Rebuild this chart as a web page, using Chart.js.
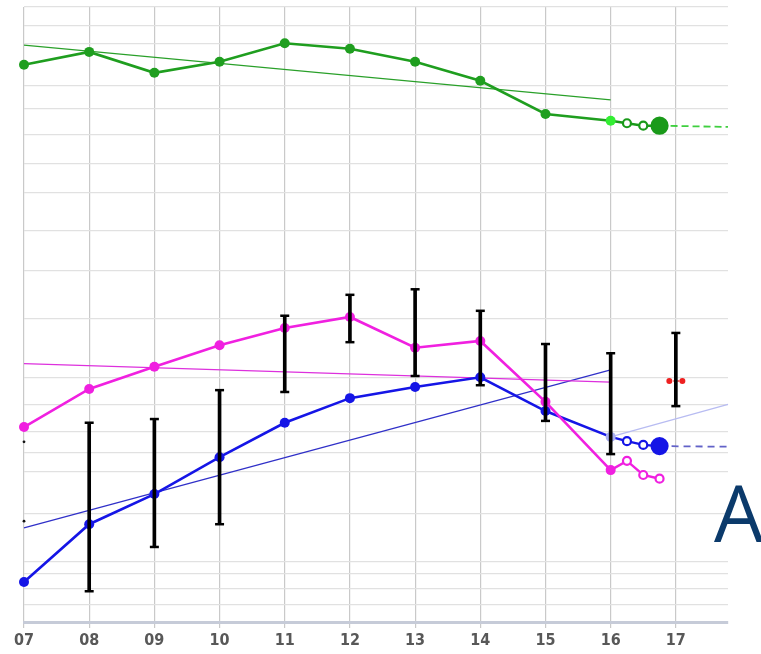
<!DOCTYPE html>
<html>
<head>
<meta charset="utf-8">
<script src="https://cdn.jsdelivr.net/npm/chart.js@4.4.1/dist/chart.umd.min.js"></script>
<style>
  html, body { margin: 0; padding: 0; background: #ffffff; }
  #wrap { position: relative; width: 761px; height: 654px; overflow: hidden; }
  #c { position: absolute; left: 0; top: 0; }
  #mark { position: absolute; left: 714px; top: 462px; font-family: "Open Sans", sans-serif; font-size: 78px; line-height: 100px; color: #0b3a6b; }
</style>
</head>
<body>
<div id="wrap">
  <canvas id="c" width="761" height="654"></canvas>
  <div id="mark">A</div>
</div>
<script>
// ---- data ----
const years = [7, 8, 9, 10, 11, 12, 13, 14, 15, 16];
const xTickValues = [7, 8, 9, 10, 11, 12, 13, 14, 15, 16, 17];
const xTickLabels = ['07', '08', '09', '10', '11', '12', '13', '14', '15', '16', '17'];
const yGridValues = [0, 2.9, 5.5, 7.8, 9.8, 17.7, 24.4, 27.5, 30.9, 35.3, 39.7, 49.4, 57.2, 63.7, 69.8, 74.6, 79.3, 83.4, 87.2, 94.0, 96.9, 100];

const greenValues = [90.6, 92.7, 89.3, 91.1, 94.1, 93.2, 91.1, 88.0, 82.6, 81.5];
const pinkValues  = [31.7, 37.9, 41.5, 45.0, 47.8, 49.6, 44.6, 45.7, 35.8, 24.7];
const blueValues  = [6.5, 15.9, 20.8, 26.8, 32.4, 36.4, 38.2, 39.8, 34.3, 30.1];

const forecastX    = [16, 16.25, 16.5, 16.75];
const greenFcst    = [81.5, 81.1, 80.7, 80.7];
const pinkFcst     = [24.7, 26.2, 23.9, 23.3];
const blueFcst     = [30.1, 29.4, 28.8, 28.6];

const dashX        = [16.75, 17.8];
const greenDash    = [80.7, 80.5];
const blueDash     = [28.6, 28.5];

const trendX       = [7, 16];
const greenTrend   = [93.8, 84.9];
const pinkTrend    = [42.0, 39.0];
const blueTrend    = [15.3, 41.0];

const lavenderX    = [16, 17.8];
const lavenderY    = [30.1, 35.4];

const errX    = [8, 9, 10, 11, 12, 13, 14, 15, 16, 17];
const errLow  = [5.0, 12.2, 15.9, 37.4, 45.5, 40.0, 38.5, 32.7, 27.3, 35.1];
const errHigh = [32.4, 33.0, 37.7, 49.8, 53.2, 54.1, 50.6, 45.2, 43.7, 47.0];

const redX = [16.9, 17.1];
const redY = [39.2, 39.2];

const dotX = [7, 7];
const dotY = [29.3, 16.4];

// ---- helpers ----
const pts = (xs, ys) => xs.map((x, i) => ({ x: x, y: ys[i] }));

const GREEN = '#1f9e1f', PINK = '#f020e0', BLUE = '#1515e6';

function mainSeries(vals, color, lastColor, order) {
  return {
    type: 'line', data: pts(years, vals), order: order,
    borderColor: color, borderWidth: 2.6,
    pointRadius: 5, pointHoverRadius: 5,
    pointBackgroundColor: vals.map((v, i) => i === vals.length - 1 ? lastColor : color),
    pointBorderColor: vals.map((v, i) => i === vals.length - 1 ? lastColor : color),
    pointBorderWidth: 0, clip: false, tension: 0
  };
}
function fcSeries(vals, color, bigLast, order) {
  return {
    type: 'line', data: pts(forecastX, vals), order: order,
    borderColor: color, borderWidth: 2.4,
    pointRadius: [0, 4, 4, bigLast ? 8 : 4],
    pointBackgroundColor: ['#fff', '#fff', '#fff', bigLast ? color : '#fff'],
    pointBorderColor: color, pointBorderWidth: 2.2, clip: false
  };
}
function thinLine(xs, ys, color, width, dash, order) {
  return {
    type: 'line', data: pts(xs, ys), order: order,
    borderColor: color, borderWidth: width, borderDash: dash || [],
    pointRadius: 0, clip: false
  };
}

const errBars = {
  type: 'bar', order: 0,
  data: errX.map((x, i) => ({ x: x, y: [errLow[i], errHigh[i]] })),
  backgroundColor: '#000', borderWidth: 0, barThickness: 3, grouped: false
};
const errCaps = {
  type: 'line', order: 0, showLine: false,
  data: pts(errX, errLow).concat(pts(errX, errHigh)),
  pointStyle: 'line', pointRadius: 4.5, borderColor: '#000', pointBorderColor: '#000',
  pointBorderWidth: 2.5, clip: false
};

const datasets = [
  errBars, errCaps,
  mainSeries(greenValues, GREEN, '#33ee33', 2),
  fcSeries(greenFcst, '#1a9a1a', true, 2),
  thinLine(dashX, greenDash, '#3fcf3f', 1.8, [7, 4], 3),
  thinLine(trendX, greenTrend, '#2aa02a', 1.2, null, 3),
  mainSeries(pinkValues, PINK, PINK, 2),
  fcSeries(pinkFcst, PINK, false, 2),
  thinLine(trendX, pinkTrend, '#dd30dd', 1.2, null, 3),
  mainSeries(blueValues, BLUE, '#a9aef0', 2),
  fcSeries(blueFcst, BLUE, true, 2),
  thinLine(dashX, blueDash, '#6262c8', 1.8, [7, 5], 3),
  thinLine(trendX, blueTrend, '#3030c8', 1.2, null, 3),
  thinLine(lavenderX, lavenderY, '#b8bcf2', 1.3, null, 3),
  {
    type: 'line', data: pts(redX, redY), order: 1,
    borderColor: '#ee3333', borderWidth: 1.5, borderDash: [2, 2],
    pointStyle: 'circle', pointRadius: 3, pointBackgroundColor: '#ee2020', pointBorderWidth: 0, clip: false
  },
  {
    type: 'line', data: pts(dotX, dotY), order: 1, showLine: false,
    pointRadius: 1.4, pointBackgroundColor: '#111', pointBorderWidth: 0, clip: false
  }
];

new Chart(document.getElementById('c'), {
  data: { datasets: datasets },
  options: {
    responsive: false,
    animation: false,
    devicePixelRatio: 1,
    layout: { autoPadding: false, padding: { left: 24, right: 33, top: 7, bottom: 0 } },
    plugins: { legend: { display: false }, tooltip: { enabled: false } },
    scales: {
      x: {
        type: 'linear', min: 7, max: 17.8, offset: false,
        afterBuildTicks: s => { s.ticks = xTickValues.map(v => ({ value: v })); },
        afterFit: s => { s.height = 32; },
        ticks: {
          autoSkip: false, maxRotation: 0, padding: 3,
          color: '#585858',
          font: { family: '"DejaVu Sans Condensed", "DejaVu Sans", sans-serif', size: 16, weight: 'bold' },
          callback: v => { const i = xTickValues.indexOf(v); return i >= 0 ? xTickLabels[i] : ''; }
        },
        grid: { offset: false, color: '#c9c9c9', lineWidth: 1.2, tickLength: 6, drawTicks: true },
        border: { display: true, color: '#c6cbd8', width: 3 }
      },
      y: {
        type: 'linear', min: 0, max: 100,
        afterBuildTicks: s => { s.ticks = yGridValues.map(v => ({ value: v })); },
        afterFit: s => { s.width = 0; },
        ticks: { display: false },
        grid: { color: '#e1e1e1', lineWidth: 1.2, drawTicks: false },
        border: { display: false }
      }
    }
  }
});
</script>
</body>
</html>
